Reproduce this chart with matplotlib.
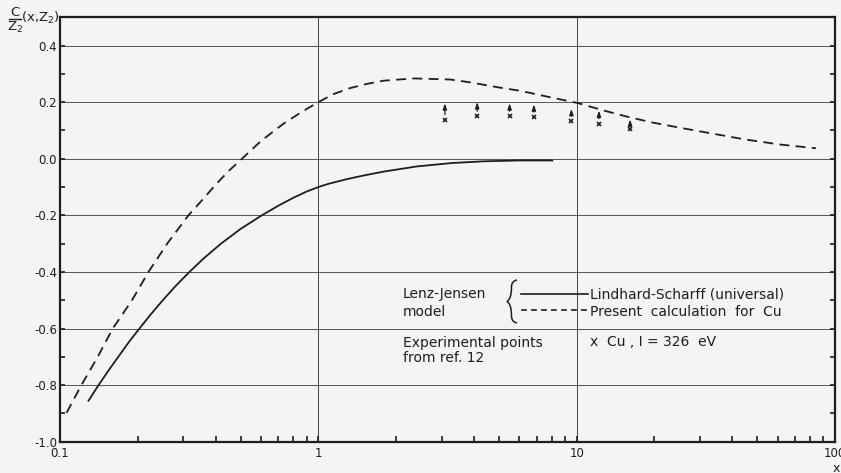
import matplotlib
matplotlib.use("Agg")
import matplotlib.pyplot as plt
import numpy as np
from matplotlib.path import Path
from matplotlib.patches import PathPatch
from matplotlib.lines import Line2D
from matplotlib.ticker import FixedLocator, NullFormatter

# Lenz-Jensen model, Lindhard-Scharff (universal)
ls_x = [0.129, 0.141, 0.155, 0.170, 0.185, 0.203, 0.225, 0.250, 0.280, 0.317,
        0.360, 0.420, 0.500, 0.604, 0.700, 0.800, 0.900, 1.0, 1.10, 1.29,
        1.50, 1.80, 2.41, 3.30, 4.37, 6.0, 8.05]
ls_y = [-0.855, -0.80, -0.745, -0.694, -0.647, -0.60, -0.549, -0.50, -0.450,
        -0.40, -0.352, -0.300, -0.248, -0.20, -0.166, -0.138, -0.116, -0.10,
        -0.088, -0.072, -0.059, -0.045, -0.027, -0.015, -0.009, -0.006, -0.006]

# present calculation for Cu
cu_x = [0.106, 0.121, 0.140, 0.160, 0.190, 0.220, 0.260, 0.314, 0.360, 0.400,
        0.450, 0.506, 0.600, 0.733, 0.86, 1.0, 1.14, 1.33, 1.55, 1.79, 2.34,
        3.25, 3.88, 5.0, 6.07, 7.93, 10.1, 12.8, 15.5, 19.4, 25.0, 34.0, 45.0,
        61.8, 84.4]
cu_y = [-0.898, -0.80, -0.70, -0.60, -0.50, -0.40, -0.30, -0.20, -0.140,
        -0.092, -0.043, 0.0, 0.063, 0.124, 0.165, 0.200, 0.228, 0.250, 0.265,
        0.276, 0.284, 0.280, 0.270, 0.252, 0.240, 0.217, 0.197, 0.170, 0.150,
        0.129, 0.110, 0.088, 0.068, 0.050, 0.037]

# experimental points, ref. 12 (Cu, I = 326 eV), with arrow tips
exp_x = [3.09, 4.12, 5.50, 6.83, 9.54, 12.2, 16.1]
exp_y = [0.138, 0.150, 0.150, 0.147, 0.133, 0.124, 0.106]
exp_tip = [0.196, 0.200, 0.196, 0.192, 0.176, 0.170, 0.139]

x_ticks = [0.1, 1, 10, 100]
x_labels = ["0.1", "1", "10", "100"]
y_ticks = [-1.0, -0.8, -0.6, -0.4, -0.2, 0.0, 0.2, 0.4]
y_labels = ["-1.0", "-0.8", "-0.6", "-0.4", "-0.2", "0.0", "0.2", "0.4"]

ink = "#1e1e1e"
paper = "#f4f4f3"
plt.rcParams["font.family"] = ["DejaVu Sans"]
plt.rcParams["mathtext.fontset"] = "dejavusans"

W, H = 841, 473
fig = plt.figure(figsize=(W / 100, H / 100), dpi=100, facecolor=paper)
L, R, T, B = 60, 835, 17.3, 441.7
ax = fig.add_axes([L / W, 1 - B / H, (R - L) / W, (B - T) / H], facecolor=paper)

ax.set_xscale("log")
ax.set_xlim(0.1, 100)
ax.set_ylim(-1.0, 0.5)

# grid: horizontal every 0.2, vertical only at 1 and 10
for yv in y_ticks[1:]:
    ax.axhline(yv, color="#555555", lw=0.7, zorder=1)
for xv in x_ticks[1:3]:
    ax.axvline(xv, color="#444444", lw=0.7, zorder=1)

ax.plot(ls_x, ls_y, color=ink, lw=1.3, zorder=3)
ax.plot(cu_x, cu_y, color=ink, lw=1.3, dashes=(5.5, 3.5), zorder=3)

ax.plot(exp_x, exp_y, ls="none", marker="x", ms=3.5, mew=1.2, color=ink, zorder=4)
for xv, yv, tip in zip(exp_x, exp_y, exp_tip):
    ax.annotate("", xy=(xv, tip), xytext=(xv, yv + 0.018),
                arrowprops=dict(arrowstyle="-|>,head_length=0.35,head_width=0.12",
                                color=ink, lw=0.9, shrinkA=0, shrinkB=0),
                zorder=4)

# spines and ticks
for side in ["left", "right", "top", "bottom"]:
    ax.spines[side].set_linewidth(1.6)
    ax.spines[side].set_color(ink)

ax.xaxis.set_major_locator(FixedLocator(x_ticks))
ax.set_xticklabels(x_labels)
ax.xaxis.set_minor_locator(FixedLocator(
    [m * d for d in (0.1, 1, 10) for m in range(2, 10)]))
ax.xaxis.set_minor_formatter(NullFormatter())
ax.yaxis.set_major_locator(FixedLocator(y_ticks))
ax.set_yticklabels(y_labels)
ax.yaxis.set_minor_locator(FixedLocator(np.arange(-0.9, 0.5, 0.2)))

ax.tick_params(axis="x", which="both", direction="in", top=False, length=4,
               width=1.2, color=ink, labelsize=8.5, pad=4, labelcolor=ink)
ax.tick_params(axis="y", which="both", direction="in", left=True, right=True,
               length=3.5, width=1.2, color=ink, labelsize=8.5, pad=2,
               labelcolor=ink)

def fx(px):
    return (px - L) / (R - L)

def fy(py):
    return (B - py) / (B - T)

# y title: C over Z2, then (x, Z2)
fig.text(15 / W, 1 - 12 / H, "C", fontsize=9.5, ha="center", va="center",
         color=ink)
fig.add_artist(Line2D([9 / W, 21 / W], [1 - 19.5 / H, 1 - 19.5 / H],
                      color=ink, lw=1.0))
fig.text(15 / W, 1 - 27 / H, r"Z$_2$", fontsize=9.5, ha="center", va="center",
         color=ink)
fig.text(21 / W, 1 - 18 / H, r"(x,Z$_2$)", fontsize=9.5, ha="left",
         va="center", color=ink)
fig.text(836 / W, 1 - 468 / H, "x", fontsize=9, ha="center", va="center",
         color=ink)

# key
txt = dict(transform=ax.transAxes, fontsize=10, va="center", ha="left",
           color=ink)
ax.text(fx(403), fy(294), "Lenz-Jensen", **txt)
ax.text(fx(403), fy(311.5), "model", **txt)

# curly brace joining the two model curves
bx = [517, 511.5, 511.5, 511.5, 507, 511.5, 511.5, 511.5, 517]
by = [280, 281, 287, 299, 301.5, 304, 316, 322, 323]
codes = [Path.MOVETO] + [Path.CURVE3] * 8
brace = Path([(fx(a), fy(b)) for a, b in zip(bx, by)], codes)
ax.add_patch(PathPatch(brace, transform=ax.transAxes, fill=False,
                       edgecolor=ink, lw=1.1, clip_on=False))

ax.plot([fx(521), fx(588)], [fy(294), fy(294)], transform=ax.transAxes,
        color=ink, lw=1.2, clip_on=False)
ax.plot([fx(521), fx(588)], [fy(310), fy(310)], transform=ax.transAxes,
        color=ink, lw=1.2, dashes=(3.5, 2.5), clip_on=False)
ax.text(fx(590), fy(294), "Lindhard-Scharff (universal)", **txt)
ax.text(fx(590), fy(311.5), "Present  calculation  for  Cu", **txt)
ax.text(fx(403), fy(342.5), "Experimental points", **txt)
ax.text(fx(403), fy(358.5), "from ref. 12", **txt)
ax.text(fx(590), fy(342.5), "x  Cu , I = 326  eV", **txt)

fig.savefig("out.png", dpi=100, facecolor=paper)
